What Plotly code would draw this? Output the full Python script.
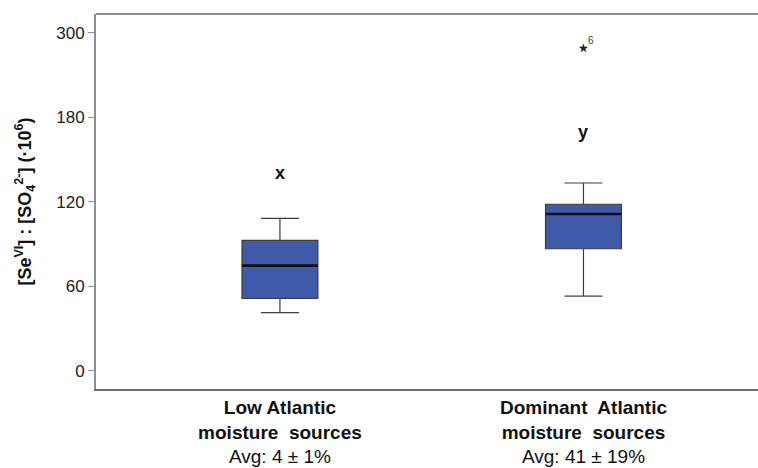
import plotly.graph_objects as go

# ---- data ----
categories = ["<b>Low Atlantic</b><br><b>moisture  sources</b><br>Avg: 4 ± 1%",
              "<b>Dominant  Atlantic</b><br><b>moisture  sources</b><br>Avg: 41 ± 19%"]
positions = [0, 1]
lower_whisker = [41.2, 53.0]
q1_vals = [51.4, 86.6]
median_vals = [74.6, 111.3]
q3_vals = [92.6, 118.2]
upper_whisker = [108.2, 133.3]
outlier_vals = [None, 228.9]
outlier_ids = ["", "6"]
group_letters = ["x", "y"]
letter_y = [140.4, 169.5]
ytick_vals = [0, 60, 120, 180, 240]
ytick_text = ["0", "60", "120", "180", "300"]

FONT = "Arial, Liberation Sans, sans-serif"
BOX_FILL = "#3F5AA8"
BOX_W = 0.25

fig = go.Figure()
for i, p in enumerate(positions):
    fig.add_trace(go.Box(
        x=[p], q1=[q1_vals[i]], median=[median_vals[i]], q3=[q3_vals[i]],
        lowerfence=[lower_whisker[i]], upperfence=[upper_whisker[i]],
        width=BOX_W, whiskerwidth=0.5, fillcolor=BOX_FILL,
        line=dict(color="#3c3c3c", width=1.2), boxpoints=False,
        showlegend=False, hoverinfo="skip"))
    # thicker black median line over the box
    fig.add_trace(go.Scatter(
        x=[p - BOX_W / 2, p + BOX_W / 2], y=[median_vals[i], median_vals[i]],
        mode="lines", line=dict(color="#111111", width=2.6),
        showlegend=False, hoverinfo="skip"))
    if outlier_vals[i] is not None:
        fig.add_trace(go.Scatter(
            x=[p], y=[outlier_vals[i]], mode="markers",
            marker=dict(symbol="star", size=7, color="#222222"),
            showlegend=False, hoverinfo="skip"))
        fig.add_annotation(x=p, y=outlier_vals[i], text=outlier_ids[i],
                           showarrow=False, xshift=8, yshift=8,
                           font=dict(family=FONT, size=10, color="#444444"))
    fig.add_annotation(x=p, y=letter_y[i], text="<b>%s</b>" % group_letters[i],
                       showarrow=False,
                       font=dict(family=FONT, size=18, color="#111111"))

fig.add_shape(type="line", xref="paper", yref="paper", x0=0, x1=1, y0=1, y1=1,
              line=dict(color="#8c8c8c", width=2))

fig.update_layout(
    width=758, height=468,
    margin=dict(l=96, r=0, t=14, b=79, autoexpand=False),
    plot_bgcolor="white", paper_bgcolor="white",
    font=dict(family=FONT, color="#222222"),
    xaxis=dict(range=[-0.606, 1.575], tickvals=positions, ticktext=categories,
               showline=True, linecolor="#6e6e6e", linewidth=2, ticks="",
               showgrid=False, zeroline=False, automargin=False,
               tickfont=dict(family=FONT, size=19, color="#111111")),
    yaxis=dict(range=[-13, 253.3], tickvals=ytick_vals, ticktext=ytick_text,
               showline=True, linecolor="#8c8c8c", linewidth=2,
               ticks="outside", ticklen=6, tickcolor="#8c8c8c", tickwidth=1,
               showgrid=False, zeroline=False, automargin=False,
               tickfont=dict(family=FONT, size=17, color="#222222"),
               title=dict(text="<b>[Se<sup>VI</sup>] : [SO<sub>4</sub><sup>2-</sup>] (·10<sup>6</sup>)</b>",
                          font=dict(family=FONT, size=18, color="#111111"),
                          standoff=20)),
)

fig.write_html("out.html", config={"displayModeBar": False},
               post_script="document.body.style.margin='0';document.body.style.overflow='hidden';")
